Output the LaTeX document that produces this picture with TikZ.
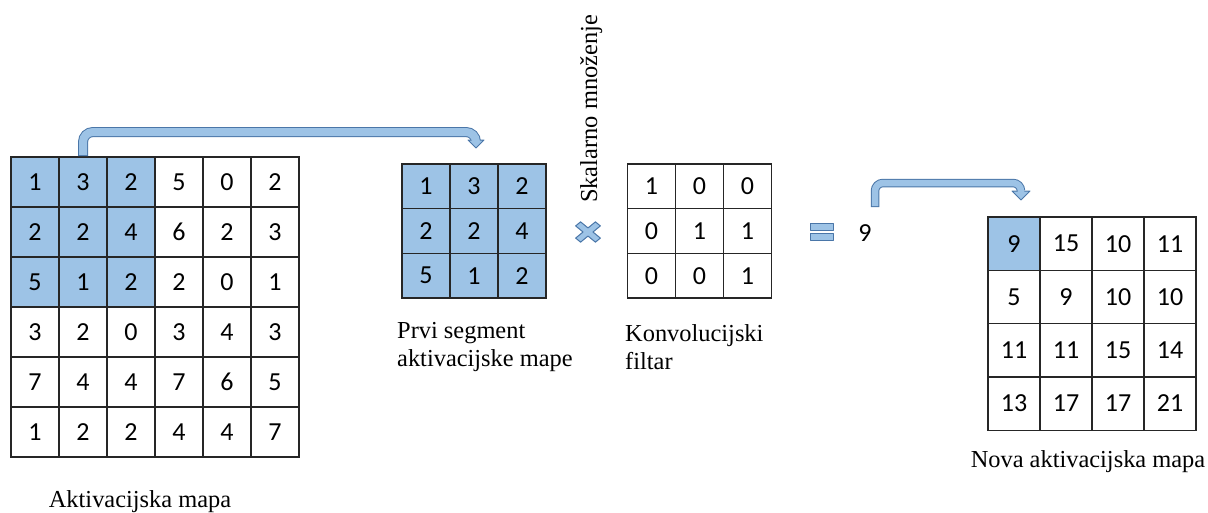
\documentclass[tikz,border=0pt]{standalone}
\usepackage{fontspec}
\setmainfont{Liberation Serif}
\newfontfamily\numfont{Carlito}
\usetikzlibrary{calc}
\definecolor{cellblue}{HTML}{9DC3E6}
\definecolor{edgeblue}{HTML}{4A76A8}
\newcommand{\cellnum}[1]{\raisebox{-1.5pt}{#1}}
\tikzset{
  cellbox/.style={draw=black!85, line width=1.2pt, inner sep=0pt, outer sep=0pt,
    font=\numfont\fontsize{26}{30}\selectfont},
  numtext/.style={inner sep=0pt, font=\numfont\fontsize{26}{30}\selectfont},
  lbl/.style={inner sep=0pt, font=\fontsize{24.4}{28}\selectfont},
  symbolshape/.style={fill=cellblue, draw=edgeblue, line width=1pt, line join=round},
}
\begin{document}
\begin{tikzpicture}[x=1pt,y=-1pt]
\useasboundingbox (0,0) rectangle (1208,512);

% Activation map 6x6
\foreach \row [count=\r] in {{1,3,2,5,0,2},{2,2,4,6,2,3},{5,1,2,2,0,1},{3,2,0,3,4,3},{7,4,4,7,6,5},{1,2,2,4,4,7}} {
  \foreach \v [count=\c] in \row {
    \pgfmathtruncatemacro\hlc{(\r<4)&&(\c<4)}
    \ifnum\hlc=1 \def\cfill{cellblue}\else\def\cfill{none}\fi
    \node[cellbox, fill=\cfill, minimum width=48pt, minimum height=50pt] (A-\r-\c) at ({11+48*\c-24},{157+50*\r-25}) {\cellnum{\v}};
  }
}

% First segment 3x3
\foreach \row [count=\r] in {{1,3,2},{2,2,4},{5,1,2}} {
  \foreach \v [count=\c] in \row {
    \node[cellbox, fill=cellblue, minimum width=48pt, minimum height=44.67pt] (S-\r-\c) at ({402+48*\c-24},{164+44.67*\r-22.33}) {\cellnum{\v}};
  }
}

% Filter 3x3
\foreach \row [count=\r] in {{1,0,0},{0,1,1},{0,0,1}} {
  \foreach \v [count=\c] in \row {
    \node[cellbox, minimum width=48pt, minimum height=44.67pt] (F-\r-\c) at ({627.5+48*\c-24},{164+44.67*\r-22.33}) {\cellnum{\v}};
  }
}

% New activation map 4x4
\foreach \row [count=\r] in {{9,15,10,11},{5,9,10,10},{11,11,15,14},{13,17,17,21}} {
  \foreach \v [count=\c] in \row {
    \pgfmathtruncatemacro\hlc{(\r<2)&&(\c<2)}
    \ifnum\hlc=1 \def\cfill{cellblue}\else\def\cfill{none}\fi
    \node[cellbox, fill=\cfill, minimum width=52pt, minimum height=53.3pt] (R-\r-\c) at ({988+52*\c-26},{217+53.3*\r-26.65}) {\cellnum{\v}};
  }
}

% Labels
\node[lbl, anchor=base] (labA) at (140,507) {Aktivacijska mapa};
\node[lbl, anchor=base west] (labS) at (397,338) {\begin{tabular}[t]{@{}l@{}}Prvi segment\\aktivacijske mape\end{tabular}};
\node[lbl, anchor=base west] (labF) at (625,341.5) {\begin{tabular}[t]{@{}l@{}}Konvolucijski\\filtar\end{tabular}};
\node[lbl, anchor=base] (labR) at (1088,467) {Nova aktivacijska mapa};
\node[lbl, rotate=90, anchor=base west] (skal) at (597,203) {Skalarno množenje};

% Multiply sign
\filldraw[symbolshape, shift={(588,232)}, yscale=0.82]
  (4.95,0) -- (12.37,7.42) -- (7.42,12.37) -- (0,4.95) -- (-7.42,12.37) -- (-12.37,7.42)
  -- (-4.95,0) -- (-12.37,-7.42) -- (-7.42,-12.37) -- (0,-4.95) -- (7.42,-12.37) -- (12.37,-7.42) -- cycle;

% Equals sign
\filldraw[symbolshape] (810,223) rectangle (833,230);
\filldraw[symbolshape] (810,233) rectangle (833,240);

% Result value
\node[numtext] (nine) at (865,233) {9};

% Big bent arrow
\coordinate (bigstart) at ($(A-1-2.north)+(0,-1)$);
\coordinate (bigtip) at ($(S-1-2.north)+(2,-16)$);
\coordinate (bigtop) at ($(bigtip)+(0,-16)$);
\coordinate (bigbase) at ($(bigtip)+(0,-8)$);
\draw[line width=10pt, edgeblue, rounded corners=10pt] (bigstart) |- (bigtop) -- (bigbase);
\filldraw[symbolshape] ($(bigbase)+(-8,0)$) -- (bigtip) -- ($(bigbase)+(8,0)$) -- cycle;
\draw[line width=8pt, cellblue, rounded corners=10pt, shorten <=1pt] (bigstart) |- (bigtop) -- ($(bigbase)+(0,1.5)$);

% Small bent arrow
\coordinate (smallstart) at ($(nine.center)+(10,-26)$);
\coordinate (smalltip) at ($(R-1-1.north)+(7,-17)$);
\coordinate (smalltop) at ($(smalltip)+(0,-17)$);
\coordinate (smallbase) at ($(smalltip)+(0,-9)$);
\draw[line width=8.5pt, edgeblue, rounded corners=8pt] (smallstart) |- (smalltop) -- (smallbase);
\filldraw[symbolshape] ($(smallbase)+(-9,0)$) -- (smalltip) -- ($(smallbase)+(9,0)$) -- cycle;
\draw[line width=6.5pt, cellblue, rounded corners=8pt, shorten <=1pt] (smallstart) |- (smalltop) -- ($(smallbase)+(0,1.5)$);
\end{tikzpicture}
\end{document}
